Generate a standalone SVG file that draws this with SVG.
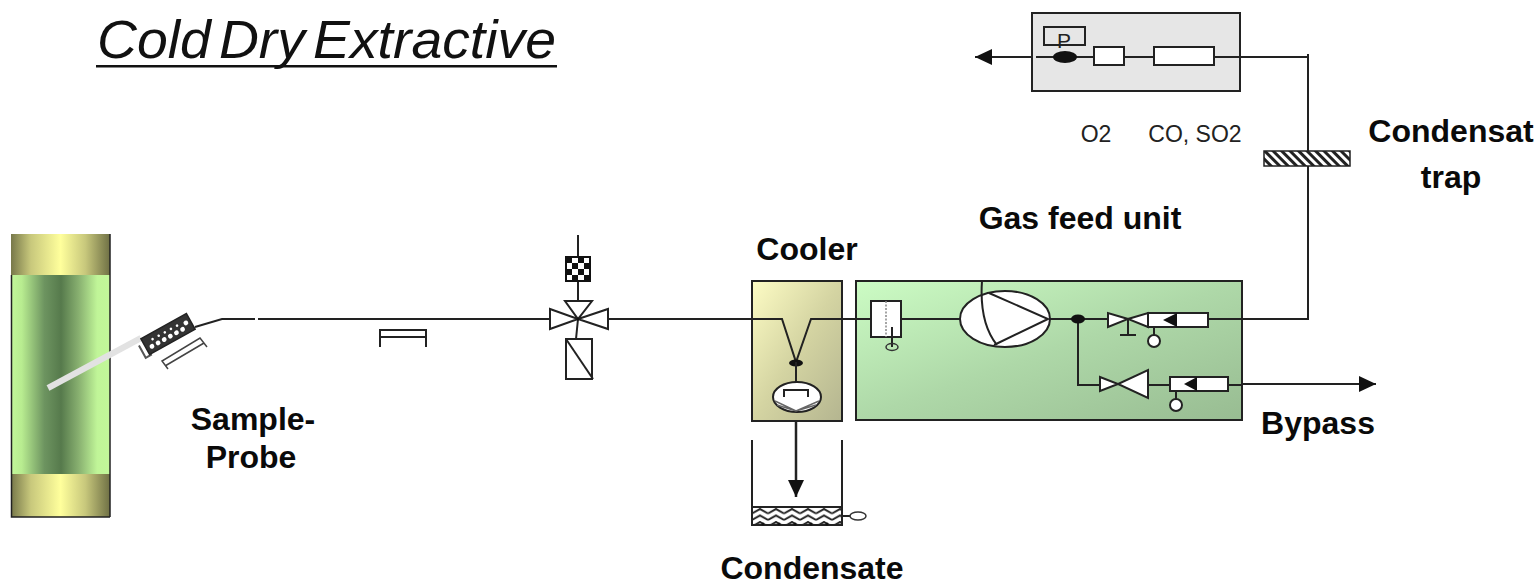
<svg xmlns="http://www.w3.org/2000/svg" width="1540" height="583" viewBox="0 0 1540 583">
<style>
.l{font:bold 32px "Liberation Sans",Arial,sans-serif;fill:#0a0a0a;text-anchor:middle}
.s{font:23px "Liberation Sans",Arial,sans-serif;fill:#222;text-anchor:middle}
.w{fill:#fff;stroke:#222;stroke-width:2}
.n{fill:none;stroke:#222;stroke-width:2}
.b{fill:#111;stroke:none}
</style>
<defs>
<linearGradient id="cap"><stop offset="0" stop-color="#77784a"/><stop offset=".2" stop-color="#c8c87c"/><stop offset=".5" stop-color="#ffff9c"/><stop offset=".75" stop-color="#c8c87c"/><stop offset="1" stop-color="#6f7045"/></linearGradient>
<linearGradient id="col"><stop offset="0" stop-color="#c2f799"/><stop offset=".1" stop-color="#b8ec90"/><stop offset=".33" stop-color="#6d9460"/><stop offset=".5" stop-color="#567a4c"/><stop offset=".68" stop-color="#88b070"/><stop offset=".87" stop-color="#c0f598"/><stop offset="1" stop-color="#c2f799"/></linearGradient>
<linearGradient id="cool" x1="0" y1="0" x2="1" y2="1"><stop offset="0" stop-color="#fdfcc4"/><stop offset=".5" stop-color="#d4d4a2"/><stop offset="1" stop-color="#b4b590"/></linearGradient>
<linearGradient id="feed" x1="0" y1="0" x2="1" y2="1"><stop offset="0" stop-color="#ccfcc4"/><stop offset=".5" stop-color="#aed8a8"/><stop offset="1" stop-color="#98bc92"/></linearGradient>
<pattern id="hatch" width="6" height="6" patternUnits="userSpaceOnUse" patternTransform="rotate(-45)"><rect width="6" height="6" fill="#fff"/><rect width="3" height="6" fill="#222"/></pattern>
<pattern id="check" width="12" height="12" patternUnits="userSpaceOnUse" x="566" y="257"><rect width="12" height="12" fill="#fff"/><rect width="6" height="6" fill="#111"/><rect x="6" y="6" width="6" height="6" fill="#111"/></pattern>
<pattern id="wave" width="16" height="6.500" patternUnits="userSpaceOnUse" x="752" y="508"><rect width="16" height="6.500" fill="#fff"/><path d="M0 5.500L8 1L16 5.500" fill="none" stroke="#222" stroke-width="2"/></pattern>
<marker id="arr" markerUnits="userSpaceOnUse" markerWidth="18" markerHeight="18" refX="17" refY="9" orient="auto"><path d="M0 1L17 9L0 17Z" fill="#111"/></marker>
</defs>

<g id="title">
<text x="97" y="58" style="font:italic 53px 'Liberation Sans',Arial,sans-serif;fill:#111;word-spacing:-7px" textLength="459" lengthAdjust="spacingAndGlyphs">Cold Dry Extractive</text>
<rect x="96" y="65" width="461" height="2.500" fill="#111"/>
</g>

<g id="column">
<rect x="11" y="234" width="99" height="42" fill="url(#cap)"/>
<rect x="12" y="275" width="98" height="199" fill="url(#col)"/>
<rect x="11" y="474" width="99" height="43" fill="url(#cap)"/>
<path d="M11.500 275V517H110M110 234V517" fill="none" stroke="#222" stroke-width="1.500"/>
</g>

<g id="sample-probe">
<line x1="48" y1="388" x2="141" y2="338" stroke="#e2e2e2" stroke-width="6"/>
<g transform="translate(168 334) rotate(-29)">
<path d="M-31 -4V10H-24" fill="none" stroke="#555" stroke-width="2"/>
<rect x="-26" y="-9" width="52" height="18" fill="#333" stroke="#222" stroke-width="1.500"/>
<g fill="#fff"><circle cx="-20" cy="3" r="2.400"/><circle cx="-13" cy="3" r="2.400"/><circle cx="-6" cy="3" r="2.400"/><circle cx="1" cy="3" r="2.400"/><circle cx="8" cy="3" r="2.400"/><circle cx="15" cy="3" r="2.400"/><circle cx="21" cy="-1" r="2.400"/><circle cx="-16" cy="-3" r="1.300"/><circle cx="-9" cy="-3" r="1.300"/><circle cx="-2" cy="-3" r="1.300"/><circle cx="5" cy="-3" r="1.300"/><circle cx="12" cy="-3" r="1.300"/></g>
</g>
<path d="M168 369L162 361L200 338L207 347M165 366L204 343" fill="none" stroke="#444" stroke-width="1.500"/>
<text class="l" x="253" y="430">Sample-</text>
<text class="l" x="251" y="468">Probe</text>
</g>

<g id="connectors">
<path class="n" d="M195 327L222 319H255M258 319H550"/>
<path class="n" d="M380 347V330H426V347M380 337H426"/>
<path class="n" d="M578 235V258M578 281V302M578 319L576 339"/>
<path class="n" d="M608 319H782L796 362L811 319H871M900 319H960M1049 319H1108M1208 319H1308V54M1308 57H1240"/>
<path class="n" d="M1240 57H975" marker-end="url(#arr)"/>
<path d="M796 410V497" fill="none" stroke="#222" stroke-width="2.500" marker-end="url(#arr)"/>
<path class="n" d="M1078 319V384H1100M1148 384H1170"/>
<path class="n" d="M1228 384H1376" marker-end="url(#arr)"/>
</g>

<g id="valve">
<rect x="566" y="257" width="24" height="24" fill="url(#check)" stroke="#111" stroke-width="2"/>
<path class="w" d="M550 309V329L578 319ZM608 309V329L578 319ZM565 301H592L578 319Z"/>
<rect class="w" x="566" y="339" width="26" height="40"/>
<path class="n" d="M566 339L593 379"/>
<circle cx="578" cy="319" r="1.500" fill="#111"/>
</g>

<g id="cooler">
<rect x="752" y="281" width="90" height="140" fill="url(#cool)" stroke="#222" stroke-width="2"/>
<path class="n" d="M752 319H782L796 362L811 319H842"/>
<ellipse cx="796" cy="363" rx="7" ry="3.500" fill="#111"/>
<path class="n" d="M796 362V385"/>
<ellipse cx="797" cy="397" rx="24" ry="15" class="w"/>
<path class="n" d="M784 397V390H808V397"/>
<path d="M775 401L796 411L819 401M777 405L796 411L816 405" fill="none" stroke="#666" stroke-width="1.500"/>
<text class="l" x="807" y="260">Cooler</text>
</g>

<g id="condensate">
<path class="n" d="M752 440V525M842 440V525"/>
<rect x="752" y="507" width="90" height="18" fill="url(#wave)" stroke="#222" stroke-width="2"/>
<g class="b"><circle cx="763" cy="524" r="1.500"/><circle cx="779" cy="524" r="1.500"/><circle cx="795" cy="524" r="1.500"/><circle cx="811" cy="524" r="1.500"/><circle cx="827" cy="524" r="1.500"/></g>
<path class="n" d="M842 516H850"/>
<ellipse cx="858" cy="516" rx="8" ry="4" fill="#fff" stroke="#333" stroke-width="1.500"/>
<text class="l" x="812" y="579">Condensate</text>
</g>

<g id="gas-feed-unit">
<rect x="856" y="281" width="386" height="139" fill="url(#feed)" stroke="#222" stroke-width="2"/>
<path class="n" d="M856 319H871M900 319H960M1049 319H1108M1208 319H1242M1078 319V385H1100M1148 385H1170M1228 385H1242"/>
<rect class="w" x="871" y="301" width="30" height="36"/>
<path d="M886 301V337" stroke="#888" stroke-width="1.500" stroke-dasharray="2 1.500"/>
<path class="n" d="M892 327V347"/>
<ellipse cx="892" cy="347" rx="6" ry="3.500" fill="none" stroke="#333" stroke-width="1.500"/>
<ellipse cx="1005" cy="319" rx="45" ry="28" class="w"/>
<path class="n" d="M989 293L1048 319L994 345M982 281C980 310 985 330 997 345"/>
<ellipse cx="1078" cy="319" rx="7" ry="4.500" fill="#111"/>
<path class="w" d="M1108 313V327L1128 319ZM1148 313V327L1128 319Z"/>
<path class="n" d="M1128 319V335M1120 335H1136"/>
<rect class="w" x="1148" y="313" width="60" height="14"/>
<path class="b" d="M1163 320L1177 313V327Z"/>
<path class="n" d="M1154 327V336"/><circle class="w" cx="1154" cy="341" r="6"/>
<path class="w" d="M1100 377V391L1118 384ZM1148 370V398L1118 384Z"/>
<rect class="w" x="1170" y="377" width="58" height="14"/>
<path class="b" d="M1184 384L1197 377V391Z"/>
<path class="n" d="M1176 391V400"/><circle class="w" cx="1176" cy="405" r="6"/>
<text class="l" x="1080" y="229">Gas feed unit</text>
</g>

<g id="analyser">
<rect x="1032" y="13" width="208" height="78" fill="#e6e6e6" stroke="#222" stroke-width="2"/>
<path class="n" d="M1036 57H1094M1124 57H1154M1214 57H1240"/>
<rect x="1044" y="27" width="41" height="18" fill="none" stroke="#222" stroke-width="2"/>
<text x="1064" y="48" style="font:21px 'Liberation Sans',Arial,sans-serif;fill:#222" text-anchor="middle">P</text>
<ellipse cx="1065" cy="57" rx="12" ry="6" fill="#111"/>
<rect class="w" x="1094" y="47" width="30" height="18"/>
<rect class="w" x="1154" y="47" width="60" height="18"/>
<text class="s" x="1096" y="142">O2</text>
<text class="s" x="1195" y="142">CO, SO2</text>
</g>

<g id="condensat-trap">
<rect x="1264" y="151" width="86" height="15" fill="url(#hatch)" stroke="#222" stroke-width="1.500"/>
<text class="l" x="1451" y="142">Condensat</text>
<text class="l" x="1451" y="188">trap</text>
</g>

<g id="bypass-label">
<text class="l" x="1318" y="434">Bypass</text>
</g>
</svg>
